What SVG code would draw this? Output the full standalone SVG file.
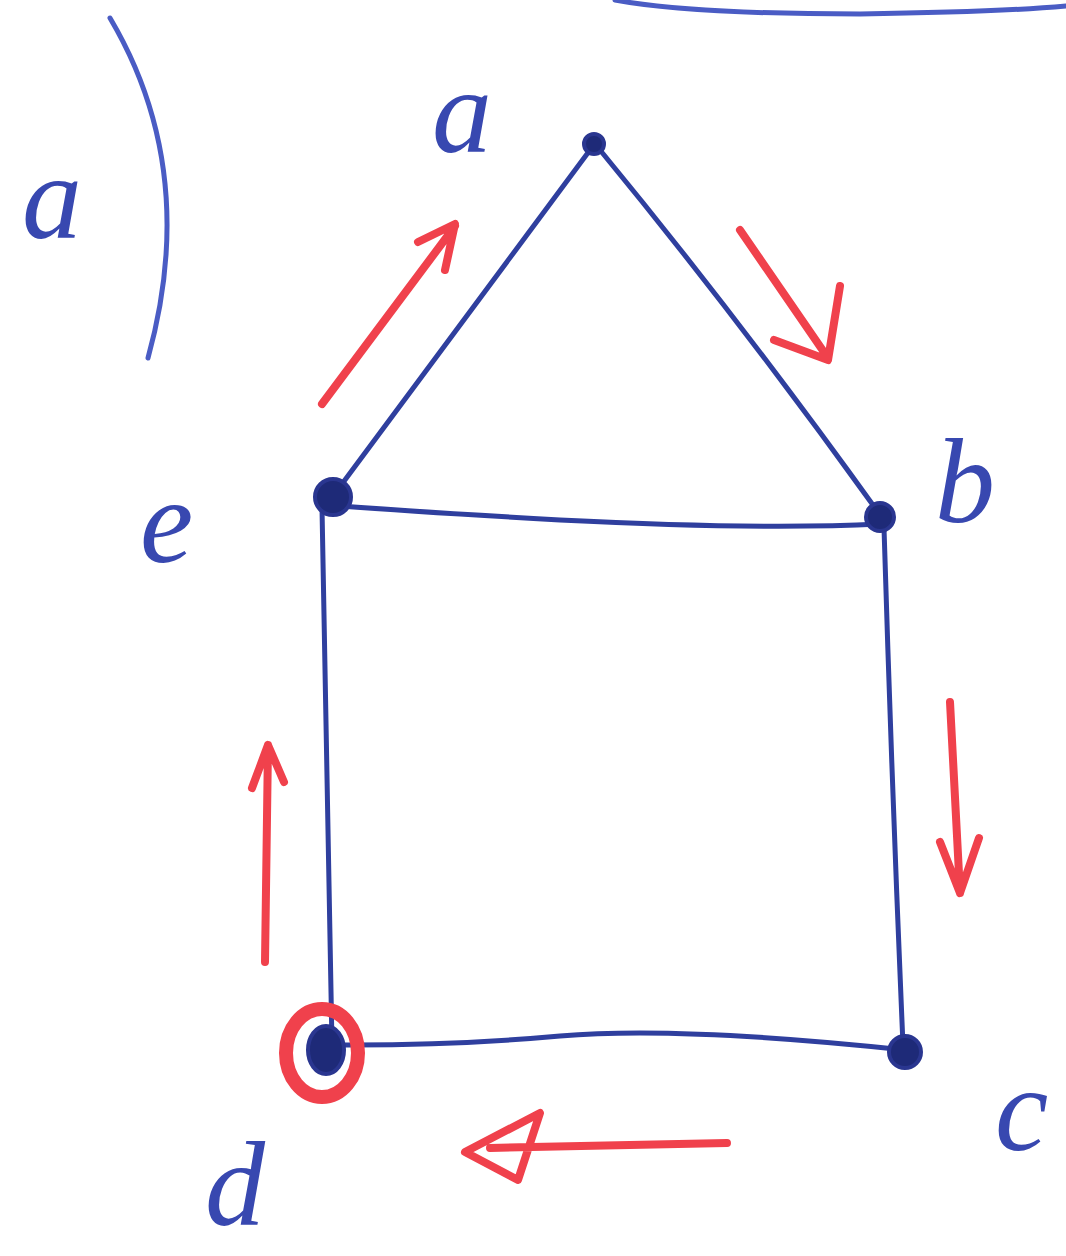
<svg xmlns="http://www.w3.org/2000/svg" width="1066" height="1256" viewBox="0 0 1066 1256">
<style>
.edge{fill:none;stroke:#2f3f9e;stroke-width:5;stroke-linecap:round}
.node{fill:#1e2a78;stroke:#2a3690;stroke-width:4}
.red{fill:none;stroke:#f0414c;stroke-width:8;stroke-linecap:round;stroke-linejoin:round}
.lbl{font-family:"Liberation Serif",serif;font-style:italic;fill:#3848b0;font-size:120px}
.deco{fill:none;stroke:#4a5cc4;stroke-width:5;stroke-linecap:round}
</style>
<rect width="1066" height="1256" fill="#ffffff"/>
<path class="deco" d="M615 0 Q 690 14 860 14 Q 1000 12 1066 6"/>
<path class="deco" d="M110 18 Q 200 170 148 358"/>
<text class="lbl" x="22" y="238" font-size="110">a</text>
<g id="connectors">
<path class="edge" d="M590 150 L 336 492"/>
<path class="edge" d="M600 150 Q 740 320 878 512"/>
<path class="edge" d="M340 506 Q 420 512 560 520 Q 760 530 880 524"/>
<path class="edge" d="M322 508 Q 327 780 332 1045"/>
<path class="edge" d="M884 528 Q 892 790 903 1045"/>
<path class="edge" d="M330 1045 Q 450 1046 560 1036 Q 680 1026 905 1050"/>
</g>
<g id="arrows">
<path class="red" d="M322 404 L 455 226 M418 242 L 455 224 L 445 270"/>
<path class="red" d="M740 230 L 828 358 M774 340 L 828 360 L 840 286"/>
<path class="red" d="M950 702 L 960 893 M940 842 L 960 893 L 979 838"/>
<path class="red" d="M265 962 L 268 745 M252 788 L 268 745 L 284 782"/>
<path class="red" d="M727 1143 L 490 1148 M465 1152 L 540 1113 L 518 1180 Z"/>
</g>
<g id="node-a"><circle class="node" cx="594" cy="144" r="10"/><text class="lbl" x="432" y="152">a</text></g>
<g id="node-b"><circle class="node" cx="880" cy="517" r="14"/><text class="lbl" x="935" y="522">b</text></g>
<g id="node-c"><circle class="node" cx="905" cy="1052" r="16"/><text class="lbl" x="995" y="1150">c</text></g>
<g id="node-d"><ellipse cx="322" cy="1053" rx="36" ry="44" fill="none" stroke="#f0414c" stroke-width="14"/><ellipse class="node" cx="326" cy="1050" rx="18" ry="24"/><text class="lbl" x="205" y="1225" font-size="110">d</text></g>
<g id="node-e"><circle class="node" cx="333" cy="497" r="18"/><text class="lbl" x="140" y="562">e</text></g>
</svg>
